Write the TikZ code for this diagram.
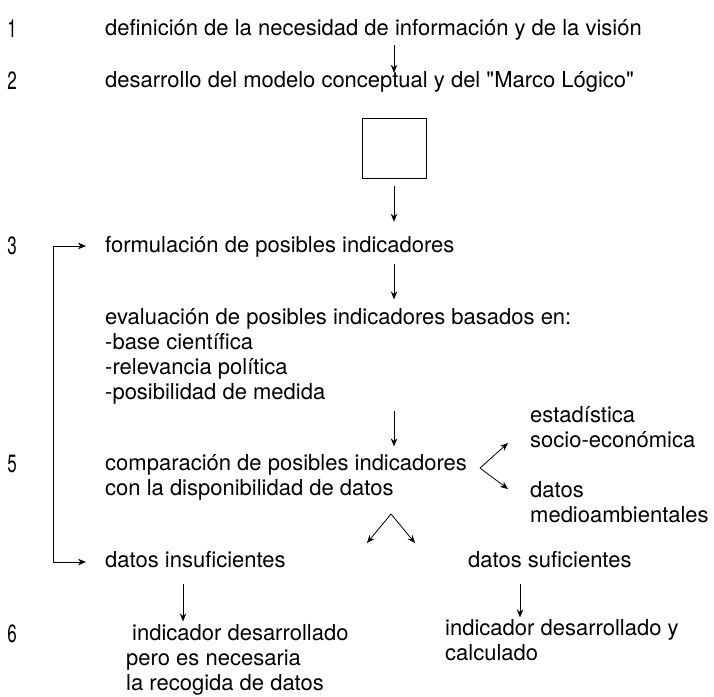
\documentclass[tikz,border=0pt]{standalone}
\usepackage{fontspec}
\setmainfont{TeX Gyre Heros}
\newfontfamily\numfont[FakeStretch=0.68]{TeX Gyre Heros}
\usetikzlibrary{arrows.meta}

\newlength{\du}
\setlength{\du}{1pt}

\tikzset{
  stage/.style={anchor=base west, inner sep=0pt, align=left,
    font=\fontsize{22}{25}\selectfont},
  stagenum/.style={anchor=base, inner sep=0pt,
    font=\numfont\fontsize{25}{25}\selectfont},
  flow/.style={-{Stealth[length=8pt,width=6.5pt]}, line width=0.8pt},
  loopback/.style={{Stealth[length=8pt,width=6.5pt]}-{Stealth[length=8pt,width=6.5pt]}, line width=0.8pt},
}

\begin{document}
\begin{tikzpicture}[x=1\du, y=-1\du]
\useasboundingbox (0,0) rectangle (714,696);

% stage numbers
\node[stagenum] (n1) at (12,37) {1};
\node[stagenum] (n2) at (12,89) {2};
\node[stagenum] (n3) at (12,254) {3};
\node[stagenum] (n5) at (12,472) {5};
\node[stagenum] (n6) at (12,642) {6};

% stages (base = last line)
\node[stage] (vision) at (105,35) {definición de la necesidad de información y de la visión};
\node[stage] (marco) at (105,87) {desarrollo del modelo conceptual y del \textquotedbl Marco Lógico\textquotedbl};
\node[draw, line width=0.6pt, minimum width=64\du, minimum height=60\du, inner sep=0pt] (modelo) at (394,148) {};
\node[stage] (formula) at (105,252) {formulación de posibles indicadores};
\node[stage] (evalua) at (105,399) {evaluación de posibles indicadores basados en:\\-base científica\\-relevancia política\\-posibilidad de medida};
\node[stage] (compara) at (105,495) {comparación de posibles indicadores\\con la disponibilidad de datos};
\node[stage] (estad) at (530,447) {estadística\\socio-económica};
\node[stage] (medio) at (530,522) {datos\\medioambientales};
\node[stage] (insuf) at (105,567) {datos insuficientes};
\node[stage] (suf) at (468,567) {datos suficientes};
\node[stage] (recogida) at (126,690) {\hspace{6pt}indicador desarrollado\\pero es necesaria\\la recogida de datos};
\node[stage] (calculo) at (445,660) {indicador desarrollado y\\calculado};

% branch points
\coordinate (fork1) at (480,468);
\coordinate (estadtip) at (508,443);
\coordinate (mediotip) at (508,489);
\coordinate (fork2) at (391,514);
\coordinate (insuftip) at (367,543);
\coordinate (suftip) at (415,543);
\coordinate (loopin) at (86,246);
\coordinate (loopout) at (86,562);

% vertical flow
\draw[flow, shorten <=5.5pt, shorten >=-2pt] (vision.south -| modelo) -- (marco.north -| modelo);
\draw[flow, shorten <=8pt, shorten >=14pt] (modelo) -- (formula.north -| modelo);
\draw[flow, shorten <=6.5pt, shorten >=8.4pt] (formula.south -| modelo) -- (evalua.north -| modelo);
\draw[flow, shorten <=6.5pt, shorten >=7.4pt] (evalua.south -| modelo) -- (compara.north -| modelo);
\draw[flow, shorten <=16pt, shorten >=2.4pt] (insuf.south -| 183,0) -- (recogida.north -| 183,0);
\draw[flow, shorten <=16pt, shorten >=1.4pt] (suf.south -| 520,0) -- (calculo.north -| 520,0);

% branches
\draw[flow] (fork1) -- (estadtip);
\draw[flow] (fork1) -- (mediotip);
\draw[flow] (fork2) -- (insuftip);
\draw[flow] (fork2) -- (suftip);

% feedback loop
\draw[loopback] (loopin) -- (53,246) -- (53,562) -- (loopout);
\end{tikzpicture}
\end{document}
